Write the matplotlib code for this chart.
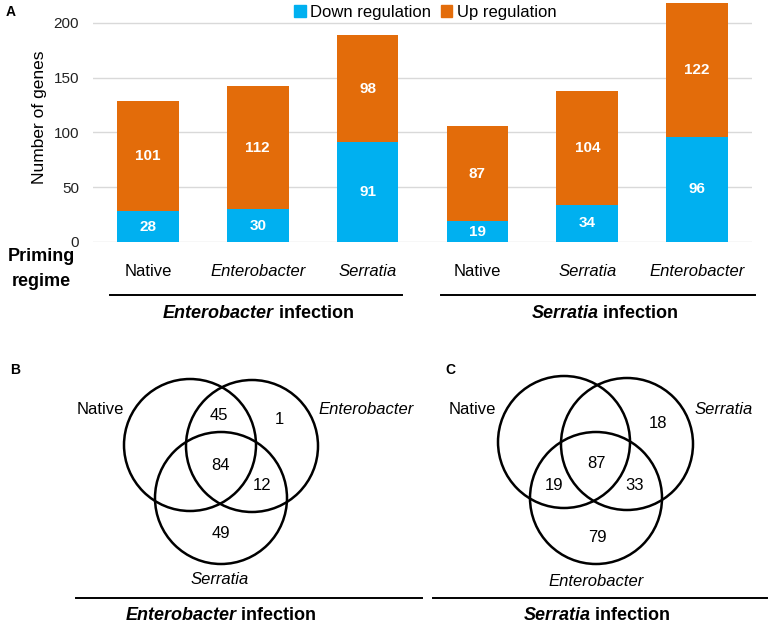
import numpy as np
import matplotlib
matplotlib.use("Agg")
import matplotlib.pyplot as plt
from matplotlib.patches import Circle, Patch

plt.rcParams["font.family"] = ["Liberation Sans", "DejaVu Sans"]

# Panel A data
groups = ["Native", "Enterobacter", "Serratia", "Native", "Serratia", "Enterobacter"]
down = [28, 30, 91, 19, 34, 96]
up = [101, 112, 98, 87, 104, 122]
infections = ["Enterobacter", "Serratia"]

# Panel B / C Venn data (region counts)
venn_b_sets = ["Native", "Enterobacter", "Serratia"]
venn_b_counts = [45, 1, 84, 12, 49]
venn_c_sets = ["Native", "Serratia", "Enterobacter"]
venn_c_counts = [18, 87, 19, 33, 79]

BLUE = "#00B0F0"
ORANGE = "#E36C0A"

W, H = 770, 629
fig = plt.figure(figsize=(W / 100, H / 100), dpi=100)

# overlay axes in pixel coordinates for annotations and Venn diagrams
ov = fig.add_axes([0, 0, 1, 1])
ov.set_xlim(0, W)
ov.set_ylim(H, 0)
ov.set_axis_off()

# ---- Panel A: stacked bars
ax = fig.add_axes([93 / W, 1 - 242 / H, (752 - 93) / W, 241 / H])
x = np.arange(len(groups))
ax.bar(x, down, width=0.56, color=BLUE, zorder=3)
ax.bar(x, up, bottom=down, width=0.56, color=ORANGE, zorder=3)
for i in range(len(groups)):
    ax.text(x[i], down[i] / 2, str(down[i]), ha="center", va="center",
            color="white", fontsize=11, fontweight="bold", zorder=4)
    ax.text(x[i], down[i] + up[i] / 2, str(up[i]), ha="center", va="center",
            color="white", fontsize=11, fontweight="bold", zorder=4)

ax.set_xlim(-0.5, 5.5)
ax.set_ylim(0, 220)
ax.set_yticks([0, 50, 100, 150, 200])
ax.set_xticks([])
ax.yaxis.grid(True, color="#D9D9D9", lw=1)
ax.set_axisbelow(True)
for s in ax.spines.values():
    s.set_visible(False)
ax.tick_params(axis="y", length=0, pad=10, labelsize=11, colors="#222222")
ax.patch.set_alpha(0)

for i, g in enumerate(groups):
    ax.text(x[i], -30 / 241, g, transform=ax.get_xaxis_transform(),
            ha="center", va="center", fontsize=12,
            fontstyle="normal" if g == "Native" else "italic")

ov.text(40, 117, "Number of genes", rotation=90, ha="center", va="center", fontsize=12.5)
ov.text(41, 269, "Priming\nregime", ha="center", va="center", fontsize=13,
        fontweight="bold", linespacing=1.6)

handles = [Patch(color=BLUE, label="Down regulation"), Patch(color=ORANGE, label="Up regulation")]
fig.legend(handles=handles, loc="center", bbox_to_anchor=(425 / W, 1 - 12 / H), ncol=2,
           frameon=False, fontsize=12, handlelength=0.7, handleheight=0.7,
           handletextpad=0.25, columnspacing=0.6, borderpad=0, borderaxespad=0)

renderer = fig.canvas.get_renderer()


def mixed(cx, y, parts, fs=13):
    texts = []
    for s, style in parts:
        t = ov.text(0, y, s, fontsize=fs, fontweight="bold", fontstyle=style,
                    ha="left", va="center")
        texts.append(t)
    widths = [t.get_window_extent(renderer).width for t in texts]
    x0 = cx - sum(widths) / 2
    for t, w in zip(texts, widths):
        t.set_x(x0)
        x0 += w


# group lines and titles for panel A
ov.plot([110, 402], [295, 295], color="black", lw=1.4)
ov.plot([441, 755], [295, 295], color="black", lw=1.4)
mixed(258, 313, [(infections[0], "italic"), (" infection", "normal")])
mixed(605, 313, [(infections[1], "italic"), (" infection", "normal")])

ov.text(6, 12, "A", fontsize=10, fontweight="bold", ha="left", va="center")
ov.text(10, 370, "B", fontsize=10, fontweight="bold", ha="left", va="center")
ov.text(445, 370, "C", fontsize=10, fontweight="bold", ha="left", va="center")

# ---- Panel B Venn
R = 66
for cx, cy in [(190, 445), (252, 446), (221, 498)]:
    ov.add_patch(Circle((cx, cy), R, fill=False, lw=1.8, ec="black"))
for (px, py), n in zip([(219, 416), (279, 419), (221, 465), (262, 485), (221, 533)], venn_b_counts):
    ov.text(px, py, str(n), ha="center", va="center", fontsize=12)
ov.text(100, 409, venn_b_sets[0], ha="center", va="center", fontsize=12)
ov.text(318, 409, venn_b_sets[1], ha="left", va="center", fontsize=12, fontstyle="italic")
ov.text(220, 579, venn_b_sets[2], ha="center", va="center", fontsize=12, fontstyle="italic")
ov.plot([76, 422], [598, 598], color="black", lw=1.4)
mixed(221, 615, [(infections[0], "italic"), (" infection", "normal")])

# ---- Panel C Venn
for cx, cy in [(564, 442), (627, 444), (596, 498)]:
    ov.add_patch(Circle((cx, cy), R, fill=False, lw=1.8, ec="black"))
for (px, py), n in zip([(658, 424), (597, 464), (554, 485), (635, 485), (597, 537)], venn_c_counts):
    ov.text(px, py, str(n), ha="center", va="center", fontsize=12)
ov.text(472, 409, venn_c_sets[0], ha="center", va="center", fontsize=12)
ov.text(695, 409, venn_c_sets[1], ha="left", va="center", fontsize=12, fontstyle="italic")
ov.text(596, 581, venn_c_sets[2], ha="center", va="center", fontsize=12, fontstyle="italic")
ov.plot([433, 767], [598, 598], color="black", lw=1.4)
mixed(597, 615, [(infections[1], "italic"), (" infection", "normal")])

fig.savefig("out.png", dpi=100)
